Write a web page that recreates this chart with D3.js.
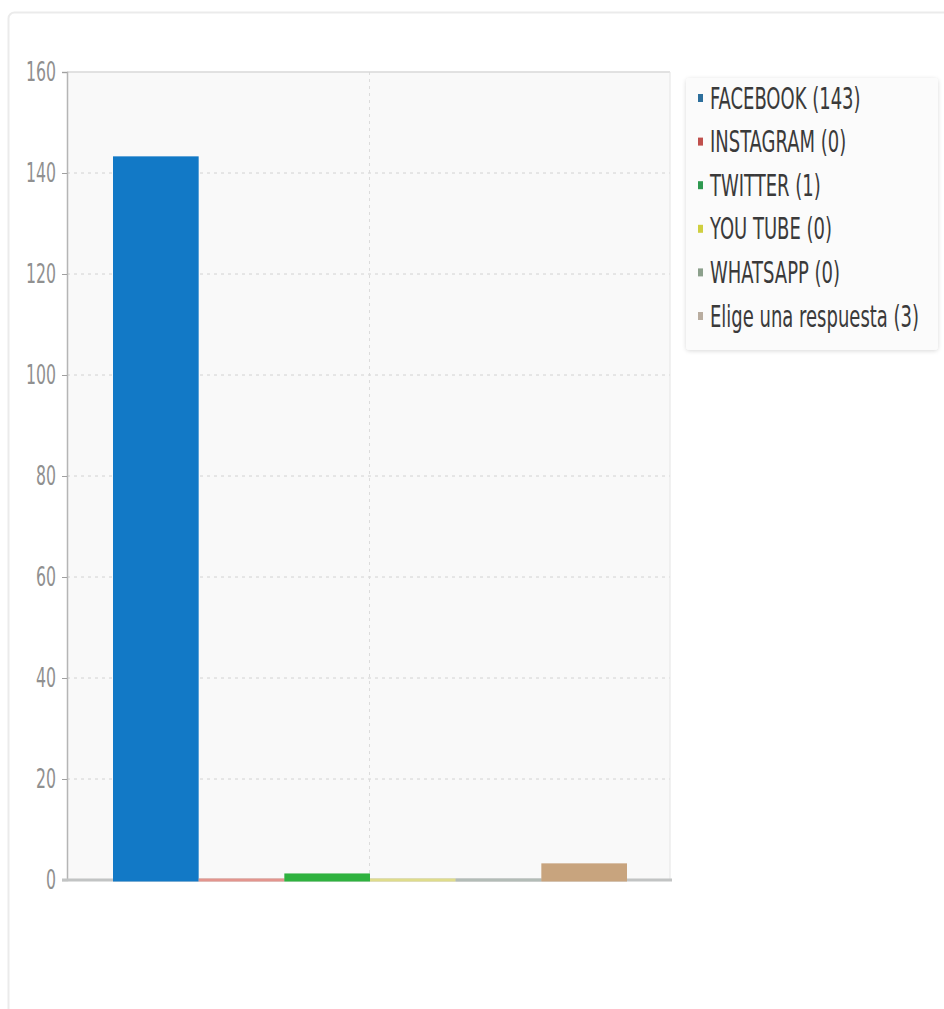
<!DOCTYPE html>
<html>
<head>
<meta charset="utf-8">
<script src="https://cdn.jsdelivr.net/npm/d3@7"></script>
<style>
html,body{margin:0;padding:0;background:#fff;}
svg{display:block;}
text{font-family:"DejaVu Sans Condensed","DejaVu Sans",sans-serif;}
</style>
</head>
<body>
<svg id="chart" width="944" height="1009"></svg>
<script>
const categories = ["FACEBOOK", "INSTAGRAM", "TWITTER", "YOU TUBE", "WHATSAPP", "Elige una respuesta"];
const values = [143, 0, 1, 0, 0, 3];
const barColors = ["#1279c6", "#e3958e", "#2fb23f", "#dfdc8c", "#b3bcb7", "#c8a47e"];
const legendColors = ["#2d6f9c", "#c0504d", "#2e9950", "#cfcf40", "#8ca08c", "#b9ada0"];
const yTicks = [0, 20, 40, 60, 80, 100, 120, 140, 160];

const svg = d3.select("#chart");
const plot = {left: 67, right: 670, top: 72, bottom: 880};
const SY = 1.5;

function stretchedText(g, x, y, str, opts) {
  const t = g.append("g").attr("transform", `translate(${x},${y}) scale(1,${SY})`)
    .append("text").attr("x", 0).attr("y", 0).attr("dy", "0.35em").text(str);
  for (const k in opts) t.attr(k, opts[k]);
  return t;
}

// card
svg.append("rect").attr("x", 8.5).attr("y", 12.5).attr("width", 960).attr("height", 1020)
  .attr("rx", 6).attr("fill", "#fff").attr("stroke", "#ebebeb").attr("stroke-width", 2);

const y = d3.scaleLinear().domain([0, 160]).range([plot.bottom, plot.top]);
const x = d3.scaleBand().domain(categories).range([113, 627]).padding(0);

// plot background
svg.append("rect").attr("x", plot.left).attr("y", plot.top)
  .attr("width", plot.right - plot.left).attr("height", plot.bottom - plot.top)
  .attr("fill", "#f9f9f9");

// grid
svg.append("g").selectAll("line").data(yTicks.filter(d => d > 0 && d < 160)).join("line")
  .attr("x1", plot.left).attr("x2", plot.right)
  .attr("y1", d => y(d)).attr("y2", d => y(d))
  .attr("stroke", "#d2d2d2").attr("stroke-dasharray", "3,4").attr("stroke-width", 1);
svg.append("line").attr("x1", (plot.left + plot.right) / 2 + 1).attr("x2", (plot.left + plot.right) / 2 + 1)
  .attr("y1", plot.top).attr("y2", plot.bottom)
  .attr("stroke", "#dcdcdc").attr("stroke-dasharray", "3,4");

// top & right border
svg.append("line").attr("x1", plot.left).attr("x2", plot.right).attr("y1", plot.top).attr("y2", plot.top)
  .attr("stroke", "#d8d8d8").attr("stroke-width", 1.5);
svg.append("line").attr("x1", plot.right).attr("x2", plot.right).attr("y1", plot.top).attr("y2", plot.bottom)
  .attr("stroke", "#e4e4e4").attr("stroke-width", 1);

// y axis
const yAxis = d3.axisLeft(y).tickValues(yTicks).tickSize(5).tickFormat("");
const ga = svg.append("g").attr("transform", `translate(${plot.left},0)`).call(yAxis);
ga.select(".domain").attr("stroke", "#b5b5b5").attr("stroke-width", 1.5);
ga.selectAll(".tick line").attr("stroke", "#a0a0a0");
yTicks.forEach(v => {
  stretchedText(svg, 56, y(v), String(v), {"text-anchor": "end", "font-size": 17.5, "fill": "#909090"});
});

// baseline
svg.append("line").attr("x1", 62).attr("x2", 672).attr("y1", plot.bottom).attr("y2", plot.bottom)
  .attr("stroke", "#c2c4c4").attr("stroke-width", 3);

// bars
svg.append("g").selectAll("rect").data(values).join("rect")
  .attr("x", (d, i) => x(categories[i]))
  .attr("width", x.bandwidth())
  .attr("y", d => y(d) - 1.5)
  .attr("height", d => y(0) - y(d) + 3)
  .attr("fill", (d, i) => barColors[i]);

// legend
const lg = svg.append("g");
const defs = svg.append("defs");
const f = defs.append("filter").attr("id", "sh").attr("x", "-10%").attr("y", "-10%").attr("width", "120%").attr("height", "120%");
f.append("feDropShadow").attr("dx", 0).attr("dy", 1).attr("stdDeviation", 2).attr("flood-color", "#000").attr("flood-opacity", 0.15);
lg.append("rect").attr("x", 686).attr("y", 78).attr("width", 252).attr("height", 272).attr("rx", 4)
  .attr("fill", "#fbfbfb").attr("filter", "url(#sh)");
categories.forEach((c, i) => {
  const cy = 98 + i * 43.6;
  lg.append("rect").attr("x", 698).attr("y", cy - 4).attr("width", 5).attr("height", 8).attr("fill", legendColors[i]);
  stretchedText(lg, 710, cy, `${c} (${values[i]})`, {"font-size": 20, "fill": "#3a3a3a"});
});
</script>
</body>
</html>
